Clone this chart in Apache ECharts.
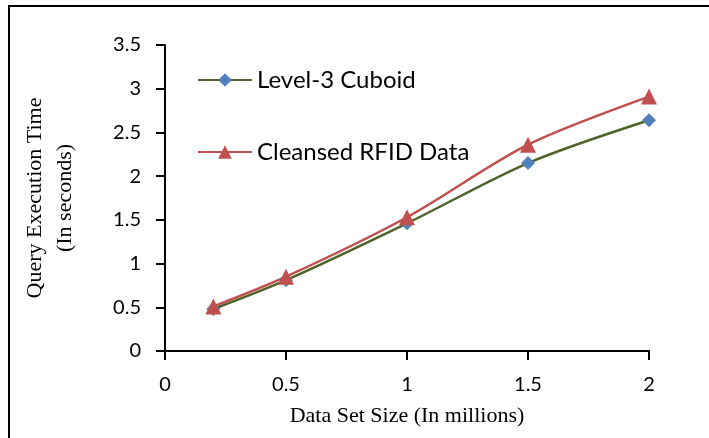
<!DOCTYPE html>
<html>
<head>
<meta charset="utf-8">
<script src="https://cdn.jsdelivr.net/npm/echarts@6/dist/echarts.min.js"></script>
<style>
  html, body { margin: 0; padding: 0; background: #fff; }
  #chart { width: 709px; height: 438px; }
</style>
</head>
<body>
<div id="chart"></div>
<script>
// data set size (millions)
var sizes = [0.2, 0.5, 1, 1.5, 2]
var cuboid = [0.48, 0.81, 1.46, 2.15, 2.64]
var cleansed = [0.51, 0.85, 1.53, 2.36, 2.91]
var seriesNames = ['Level-3 Cuboid', 'Cleansed RFID Data']

var chart = echarts.init(document.getElementById('chart'))

var pairs = function (ys) {
  return sizes.map(function (x, i) { return [x, ys[i]] })
}

var axisStyle = {
  axisLine: { lineStyle: { color: '#000', width: 2 } },
  axisTick: { show: true, length: 9, lineStyle: { color: '#000', width: 2 } },
  splitLine: { show: false }
}

chart.setOption({
  animation: false,
  textStyle: { fontFamily: 'Lato' },
  graphic: [{
    type: 'rect',
    shape: { x: 9, y: 6, width: 720, height: 450 },
    style: { fill: 'none', stroke: '#000', lineWidth: 2 }
  }],
  grid: { left: 165, right: 60, top: 45, bottom: 87 },
  legend: {
    orient: 'vertical',
    left: 192,
    top: 63,
    itemGap: 48,
    itemWidth: 54,
    itemHeight: 17,
    textStyle: { fontFamily: 'Lato', fontSize: 24, color: '#000' },
    data: seriesNames
  },
  xAxis: Object.assign({
    type: 'value',
    min: 0,
    max: 2,
    interval: 0.5,
    name: 'Data Set Size (In millions)',
    nameLocation: 'middle',
    nameGap: 54,
    nameTextStyle: { fontFamily: 'Liberation Serif', fontSize: 22, color: '#000' },
    axisLabel: { color: '#000', fontSize: 20, margin: 24, fontFamily: 'Lato' }
  }, axisStyle),
  yAxis: Object.assign({
    type: 'value',
    min: 0,
    max: 3.5,
    interval: 0.5,
    name: 'Query Execution Time\n(In seconds)',
    nameLocation: 'middle',
    nameGap: 85,
    nameTextStyle: { fontFamily: 'Liberation Serif', fontSize: 22, color: '#000', lineHeight: 30 },
    axisLabel: { color: '#000', fontSize: 20, margin: 24, fontFamily: 'Lato' }
  }, axisStyle),
  series: [
    {
      name: seriesNames[0],
      type: 'line',
      smooth: 0.3,
      data: pairs(cuboid),
      symbol: 'diamond',
      symbolSize: 14,
      itemStyle: { color: '#4F81BD' },
      lineStyle: { color: '#4F6228', width: 2.5 }
    },
    {
      name: seriesNames[1],
      type: 'line',
      smooth: 0.3,
      data: pairs(cleansed),
      symbol: 'triangle',
      symbolSize: 16,
      itemStyle: { color: '#C0504D' },
      lineStyle: { color: '#C0504D', width: 2.5 }
    }
  ]
})
</script>
</body>
</html>
